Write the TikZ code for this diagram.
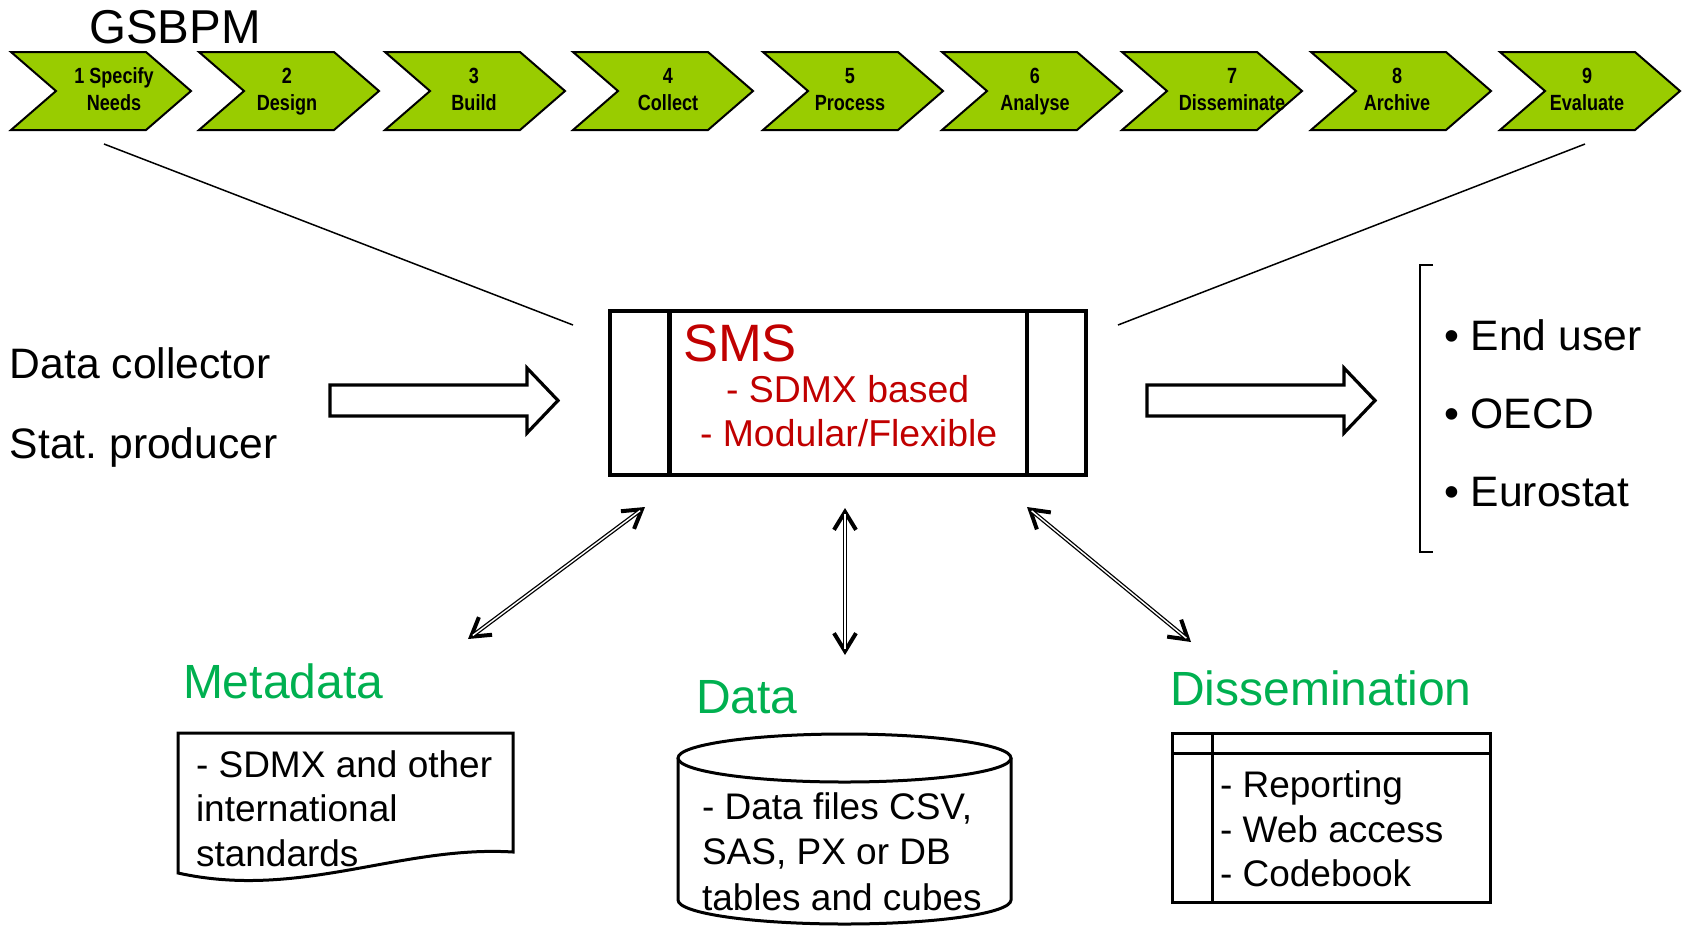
\documentclass[tikz,border=0pt]{standalone}
\usepackage{fontspec}
\setmainfont{Liberation Sans}
\newfontfamily\narrowf[FakeStretch=0.82]{Liberation Sans}
\usetikzlibrary{arrows.meta}
\definecolor{chevgreen}{RGB}{153,204,0}
\definecolor{smsred}{RGB}{192,0,0}
\definecolor{labgreen}{RGB}{0,176,80}
\frenchspacing
\tikzset{
  chev/.style={draw=black, fill=chevgreen, line width=1pt, line join=miter},
  chevtxt/.style={anchor=base, font=\fontsize{11}{13}\selectfont\narrowf\bfseries},
  bigtxt/.style={anchor=base west, font=\fontsize{21.3}{25}\selectfont},
  smstxt/.style={anchor=base west, text=smsred, font=\fontsize{18.7}{22}\selectfont},
  labtxt/.style={anchor=base west, text=labgreen, font=\fontsize{24}{28}\selectfont},
  boxtxt/.style={anchor=base west, font=\fontsize{18.5}{22}\selectfont},
  thinline/.style={draw=black, line width=0.75pt},
  barrow/.style={draw=black, fill=white, line width=1.6pt, line join=miter},
  shapeline/.style={draw=black, line width=1.5pt, line join=miter},
  dblouter/.style={draw=black, line width=2pt, {Straight Barb[length=9pt,width=11pt]}-{Straight Barb[length=9pt,width=11pt]}},
  dblinner/.style={draw=white, line width=0.7pt, shorten <=3pt, shorten >=3pt}
}
\begin{document}
\begin{tikzpicture}[x=0.5pt,y=-0.5pt, every node/.style={inner sep=0pt, outer sep=0pt}]
\useasboundingbox (0,0) rectangle (1685,928);

% title
\node[anchor=base, font=\fontsize{23.75}{28}\selectfont] (gsbpm) at (175,43) {GSBPM};

% chevrons
\foreach \i/\lx/\tx/\la/\lb in {1/11/114/{1 Specify}/Needs, 2/199/287/2/Design, 3/385/474/3/Build,
  4/573/668/4/Collect, 5/763/850/5/Process, 6/942/1035/6/Analyse, 7/1122/1232/7/Disseminate,
  8/1311/1397/8/Archive, 9/1500/1587/9/Evaluate}{
  \path[chev] (\lx,52) -- ++(135,0) -- ++(45,39) -- ++(-45,39) -- ++(-135,0) -- ++(45,-39) -- cycle;
  \node[chevtxt] (ca\i) at (\tx,83) {\la};
  \node[chevtxt] (cb\i) at (\tx,110) {\lb};
}

% lines from GSBPM to SMS
\coordinate (la) at (104,144);
\coordinate (lb) at (573,325);
\coordinate (ra) at (1585,144);
\coordinate (rb) at (1118,325);
\draw[thinline] (la) -- (lb);
\draw[thinline] (ra) -- (rb);

% left texts
\node[bigtxt] (dc) at (10,378) {Data collector};
\node[bigtxt] (sp) at (10,458) {Stat. producer};

% block arrows
\draw[barrow] (330,385) -- (527,385) -- (527,368) -- (558,400.5) -- (527,433) -- (527,416) -- (330,416) -- cycle;
\draw[barrow] (1147,385) -- (1344,385) -- (1344,368) -- (1375,400.5) -- (1344,433) -- (1344,416) -- (1147,416) -- cycle;

% SMS box
\node[draw, line width=2.25pt, minimum width=238pt, minimum height=82pt] (sms) at (848,393) {};
\draw[line width=2.25pt] ([xshift=29.75pt]sms.north west) -- ([xshift=29.75pt]sms.south west);
\draw[line width=2.25pt] ([xshift=-29.5pt]sms.north east) -- ([xshift=-29.5pt]sms.south east);
\node[anchor=base west, text=smsred, font=\fontsize{26.3}{30}\selectfont] (smst) at (683,361) {SMS};
\node[smstxt] (sms1) at (726,402) {- SDMX based};
\node[smstxt] (sms2) at (700,446) {- Modular/Flexible};

% bracket and list
\draw[thinline] (1433,265) -- (1420,265) -- (1420,552) -- (1433,552);
\node[bigtxt] (eu) at (1444,350) {• End user};
\node[bigtxt] (oecd) at (1444,428) {• OECD};
\node[bigtxt] (euro) at (1444,506) {• Eurostat};

% bottom labels
\node[labtxt] (meta) at (183,698) {Metadata};
\node[labtxt] (data) at (696,713) {Data};
\node[labtxt] (diss) at (1170,705) {Dissemination};

% document shape
\draw[shapeline, fill=white] (178,733) -- (513,733) -- (513,852) .. controls (400,845) and (300,900) .. (178,873) -- cycle;
\node[boxtxt] (m1) at (196,777) {- SDMX and other};
\node[boxtxt] (m2) at (196,821) {international};
\node[boxtxt] (m3) at (196,866) {standards};

% cylinder
\draw[shapeline, fill=white] (678,758) -- (678,900) arc[start angle=180, end angle=0, x radius=166.5, y radius=24] -- (1011,758);
\draw[shapeline, fill=white] (844.5,758) ellipse[x radius=166.5, y radius=24];
\node[boxtxt] (d1) at (702,819) {- Data files CSV,};
\node[boxtxt] (d2) at (702,864) {SAS, PX or DB};
\node[boxtxt] (d3) at (702,910) {tables and cubes};

% dissemination box
\draw[shapeline] (1172,733) rectangle (1490,902);
\draw[shapeline] (1172,753) -- (1490,753);
\draw[shapeline] (1212,733) -- (1212,902);
\node[boxtxt] (r1) at (1220,797) {- Reporting};
\node[boxtxt] (r2) at (1220,842) {- Web access};
\node[boxtxt] (r3) at (1220,886) {- Codebook};

% double arrows
\coordinate (a1) at (645,507);
\coordinate (a2) at (468,639);
\coordinate (b1) at (845,508);
\coordinate (b2) at (845,655);
\coordinate (c1) at (1027,507);
\coordinate (c2) at (1191,642);
\draw[dblouter] (a1) -- (a2);
\draw[dblinner] (a1) -- (a2);
\draw[dblouter] (b1) -- (b2);
\draw[dblinner] (b1) -- (b2);
\draw[dblouter] (c1) -- (c2);
\draw[dblinner] (c1) -- (c2);
\end{tikzpicture}
\end{document}
